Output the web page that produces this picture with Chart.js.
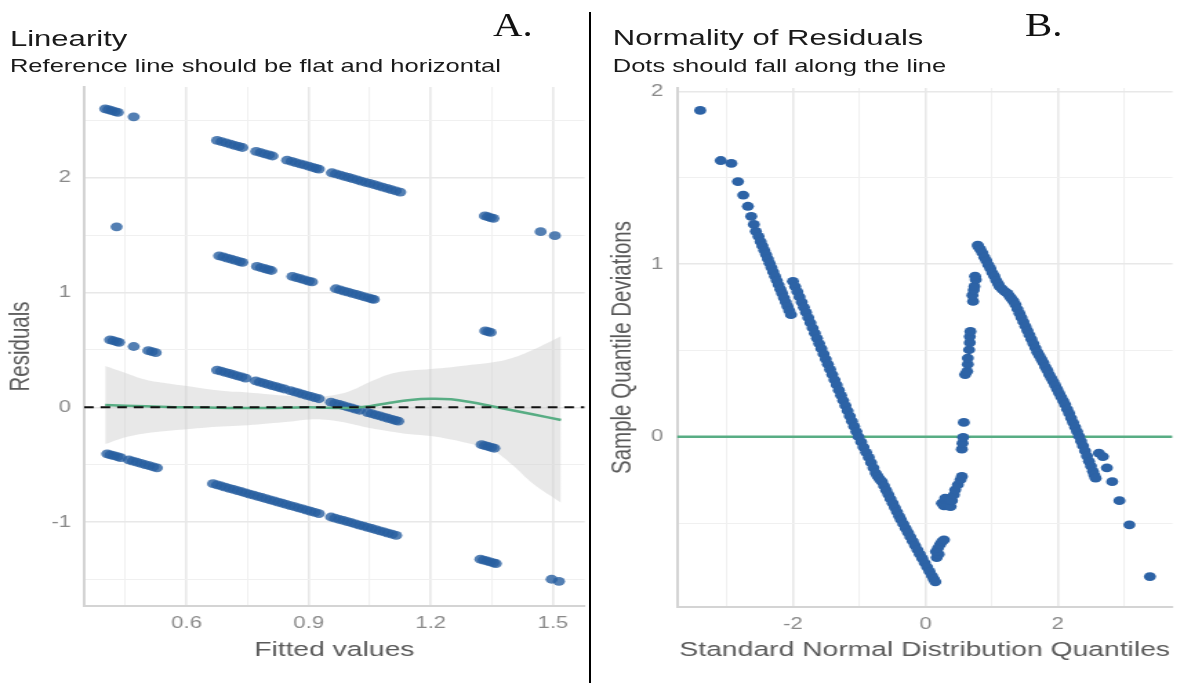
<!DOCTYPE html>
<html>
<head>
<meta charset="utf-8">
<script src="https://cdn.jsdelivr.net/npm/chart.js@4.4.1/dist/chart.umd.min.js"></script>
<style>
  html, body { margin: 0; padding: 0; background: #fff; }
  body { width: 1178px; height: 683px; position: relative; overflow: hidden; font-family: "Liberation Sans", Arial, sans-serif; }
  /* the source picture is stretched sideways, so the whole figure is drawn narrow and widened */
  #stretch { position: absolute; left: 0; top: 0; width: 853.6px; height: 683px; transform: scaleX(1.38); transform-origin: 0 0; }
  .title { position: absolute; font-size: 22.5px; line-height: 1; color: #1a1a1a; white-space: nowrap; }
  .subtitle { position: absolute; font-size: 18.5px; line-height: 1; color: #1a1a1a; white-space: nowrap; }
  .panel { position: absolute; top: 80px; height: 603px; }
  .tag { position: absolute; top: 8px; font-family: "Liberation Serif", "Times New Roman", serif; font-size: 34px; line-height: 1; color: #111; transform: scaleX(1.2); transform-origin: 0 0; }
  #divider { position: absolute; left: 589px; top: 12px; width: 2px; height: 671px; background: #000; }
</style>
</head>
<body>
<div id="stretch">
  <div class="title" style="left:7.2px; top:28px;">Linearity</div>
  <div class="subtitle" style="left:7.2px; top:57.3px;">Reference line should be flat and horizontal</div>
  <div class="title" style="left:444px; top:27px;">Normality of Residuals</div>
  <div class="subtitle" style="left:444px; top:57.3px;">Dots should fall along the line</div>
  <div class="panel" style="left:0; width:428px;"><canvas id="linearity"></canvas></div>
  <div class="panel" style="left:428px; width:426px;"><canvas id="normality"></canvas></div>
</div>
<div class="tag" style="left:493px;">A.</div>
<div class="tag" style="left:1025px;">B.</div>
<div id="divider"></div>

<script>
// ---- Linearity panel: [fitted, residual] grouped by observed outcome ----
const resid3 = [
  [0.400, 2.600], [0.408, 2.592], [0.416, 2.584], [0.424, 2.576], [0.431, 2.569], [0.470, 2.530],
  [0.675, 2.325], [0.686, 2.314], [0.697, 2.303], [0.708, 2.292], [0.718, 2.282], [0.728, 2.272], [0.737, 2.263],
  [0.771, 2.229], [0.782, 2.218], [0.792, 2.208], [0.802, 2.198], [0.811, 2.189],
  [0.847, 2.153], [0.858, 2.142], [0.868, 2.132], [0.879, 2.121], [0.889, 2.111], [0.900, 2.100], [0.910, 2.090], [0.918, 2.082], [0.925, 2.075],
  [0.957, 2.043], [0.967, 2.033], [0.978, 2.022], [0.988, 2.012], [0.998, 2.002], [1.008, 1.992], [1.019, 1.981], [1.029, 1.971],
  [1.040, 1.960], [1.050, 1.950], [1.061, 1.939], [1.071, 1.929], [1.082, 1.918], [1.093, 1.907], [1.103, 1.897], [1.114, 1.886], [1.125, 1.875],
  [1.333, 1.667], [1.340, 1.660], [1.347, 1.653], [1.354, 1.646], [1.470, 1.530], [1.505, 1.495]
];
const resid2 = [
  [0.428, 1.572],
  [0.680, 1.320], [0.690, 1.310], [0.700, 1.300], [0.710, 1.290], [0.720, 1.280], [0.730, 1.270], [0.737, 1.263],
  [0.773, 1.227], [0.783, 1.217], [0.793, 1.207], [0.801, 1.199], [0.808, 1.192],
  [0.860, 1.140], [0.870, 1.130], [0.880, 1.120], [0.890, 1.110], [0.900, 1.100], [0.908, 1.092],
  [0.967, 1.033], [0.977, 1.023], [0.987, 1.013], [0.997, 1.003], [1.007, 0.993], [1.017, 0.983], [1.027, 0.973],
  [1.037, 0.963], [1.047, 0.953], [1.055, 0.945], [1.060, 0.940],
  [1.334, 0.666], [1.341, 0.659], [1.347, 0.653]
];
const resid1 = [
  [0.412, 0.588], [0.420, 0.580], [0.428, 0.572], [0.434, 0.566], [0.470, 0.530], [0.506, 0.494], [0.515, 0.485], [0.524, 0.476],
  [0.675, 0.325], [0.685, 0.315], [0.695, 0.305], [0.705, 0.295], [0.715, 0.285], [0.725, 0.275], [0.735, 0.265], [0.745, 0.255],
  [0.770, 0.230], [0.780, 0.220], [0.790, 0.210], [0.800, 0.200], [0.810, 0.190], [0.820, 0.180], [0.830, 0.170], [0.840, 0.160],
  [0.855, 0.145], [0.865, 0.135], [0.875, 0.125], [0.885, 0.115], [0.895, 0.105], [0.905, 0.095], [0.915, 0.085], [0.925, 0.075],
  [0.955, 0.045], [0.965, 0.035], [0.975, 0.025], [0.985, 0.015], [0.995, 0.005], [1.005, -0.005], [1.015, -0.015], [1.025, -0.025],
  [1.045, -0.045], [1.055, -0.055], [1.065, -0.065], [1.075, -0.075], [1.085, -0.085], [1.095, -0.095], [1.105, -0.105], [1.113, -0.113], [1.120, -0.120],
  [1.325, -0.325], [1.333, -0.333], [1.341, -0.341], [1.349, -0.349], [1.356, -0.356]
];
const resid0 = [
  [0.405, -0.405], [0.413, -0.413], [0.421, -0.421], [0.430, -0.430], [0.438, -0.438], [0.458, -0.458], [0.468, -0.468],
  [0.478, -0.478], [0.488, -0.488], [0.498, -0.498], [0.508, -0.508], [0.518, -0.518], [0.527, -0.527],
  [0.665, -0.665], [0.675, -0.675], [0.685, -0.685], [0.695, -0.695], [0.705, -0.705], [0.715, -0.715], [0.725, -0.725],
  [0.735, -0.735], [0.745, -0.745], [0.755, -0.755], [0.765, -0.765], [0.775, -0.775], [0.785, -0.785], [0.795, -0.795],
  [0.805, -0.805], [0.815, -0.815], [0.825, -0.825], [0.835, -0.835], [0.845, -0.845], [0.855, -0.855], [0.865, -0.865],
  [0.875, -0.875], [0.885, -0.885], [0.895, -0.895], [0.905, -0.905], [0.915, -0.915], [0.925, -0.925],
  [0.955, -0.955], [0.965, -0.965], [0.975, -0.975], [0.985, -0.985], [0.995, -0.995], [1.005, -1.005], [1.015, -1.015],
  [1.025, -1.025], [1.035, -1.035], [1.045, -1.045], [1.055, -1.055], [1.065, -1.065], [1.075, -1.075], [1.085, -1.085],
  [1.095, -1.095], [1.105, -1.105], [1.115, -1.115],
  [1.322, -1.322], [1.330, -1.330], [1.338, -1.338], [1.346, -1.346], [1.354, -1.354], [1.360, -1.360], [1.497, -1.497], [1.515, -1.515]
];

// smoother and its confidence band
const smoothX = [0.40, 0.50, 0.60, 0.70, 0.80, 0.90, 1.00, 1.05, 1.10, 1.15, 1.20, 1.25, 1.30, 1.35, 1.40, 1.45, 1.52];
const smoothY = [0.02, 0.01, 0.0, -0.005, -0.005, 0.0, -0.005, 0.01, 0.04, 0.065, 0.075, 0.07, 0.045, 0.01, -0.025, -0.06, -0.11];
const bandX = [0.40, 0.45, 0.50, 0.55, 0.60, 0.65, 0.70, 0.75, 0.80, 0.85, 0.90, 0.95, 1.00, 1.05, 1.10, 1.15, 1.20, 1.25, 1.30, 1.35, 1.40, 1.45, 1.52];
const bandUpper = [0.36, 0.30, 0.24, 0.21, 0.185, 0.16, 0.14, 0.13, 0.115, 0.10, 0.09, 0.10, 0.14, 0.22, 0.29, 0.32, 0.335, 0.35, 0.37, 0.39, 0.43, 0.50, 0.62];
const bandLower = [-0.32, -0.26, -0.225, -0.205, -0.19, -0.175, -0.165, -0.155, -0.14, -0.125, -0.105, -0.11, -0.14, -0.18, -0.21, -0.235, -0.25, -0.28, -0.32, -0.37, -0.50, -0.66, -0.83];

const linXRange = [0.348, 1.578];
const linYRange = [-1.73, 2.79];
const linXMajor = [0.6, 0.9, 1.2, 1.5];
const linXLabels = ['0.6', '0.9', '1.2', '1.5'];
const linXMinor = [0.45, 0.75, 1.05, 1.35];
const linYMajor = [-1, 0, 1, 2];
const linYLabels = ['-1', '0', '1', '2'];
const linYMinor = [-1.5, -0.5, 0.5, 1.5, 2.5];

// ---- Normality panel: [theoretical quantile, sample deviation] ----
const qqUpperTail = [
  [-3.40, 1.89], [-3.09, 1.60], [-2.93, 1.583], [-2.83, 1.478], [-2.75, 1.40], [-2.68, 1.335], [-2.63, 1.277], [-2.59, 1.23], [-2.56, 1.19]
];
const qqBranchA = [
  [-2.52, 1.16], [-2.488, 1.13], [-2.461, 1.105], [-2.433, 1.08], [-2.406, 1.055], [-2.379, 1.03], [-2.352, 1.005], [-2.325, 0.98],
  [-2.298, 0.955], [-2.271, 0.93], [-2.244, 0.905], [-2.217, 0.88], [-2.19, 0.855], [-2.163, 0.83], [-2.136, 0.805], [-2.109, 0.78],
  [-2.082, 0.755], [-2.055, 0.73], [-2.03, 0.707]
];
const qqBranchB = [
  [-2.00, 0.90], [-1.967, 0.87], [-1.934, 0.84], [-1.901, 0.81], [-1.868, 0.78], [-1.835, 0.75], [-1.802, 0.72], [-1.769, 0.69],
  [-1.736, 0.66], [-1.703, 0.63], [-1.670, 0.60], [-1.637, 0.57], [-1.604, 0.54], [-1.571, 0.51], [-1.538, 0.48], [-1.505, 0.45],
  [-1.472, 0.42], [-1.439, 0.39], [-1.406, 0.36], [-1.373, 0.33], [-1.340, 0.30], [-1.307, 0.27], [-1.274, 0.24], [-1.241, 0.21],
  [-1.208, 0.18], [-1.175, 0.15], [-1.142, 0.12], [-1.109, 0.09], [-1.076, 0.06], [-1.043, 0.03], [-1.010, 0.00],
  [-0.970, -0.03], [-0.935, -0.06], [-0.895, -0.09], [-0.855, -0.12], [-0.820, -0.15], [-0.785, -0.18], [-0.750, -0.21],
  [-0.720, -0.23], [-0.690, -0.245], [-0.657, -0.26], [-0.624, -0.285], [-0.592, -0.31], [-0.559, -0.335], [-0.527, -0.36],
  [-0.494, -0.385], [-0.461, -0.41], [-0.429, -0.435], [-0.396, -0.46], [-0.370, -0.48],
  [-0.334, -0.505], [-0.299, -0.53], [-0.263, -0.555], [-0.227, -0.58], [-0.191, -0.605], [-0.156, -0.63], [-0.120, -0.655],
  [-0.084, -0.68], [-0.047, -0.705], [-0.011, -0.73], [0.026, -0.755], [0.062, -0.78], [0.099, -0.805], [0.128, -0.825], [0.150, -0.84]
];
const qqRise = [
  [0.17, -0.70], [0.20, -0.68], [0.16, -0.665], [0.19, -0.645], [0.22, -0.625], [0.25, -0.607], [0.28, -0.597],
  [0.25, -0.385], [0.28, -0.40], [0.33, -0.40], [0.38, -0.404], [0.30, -0.355], [0.36, -0.365], [0.40, -0.37],
  [0.43, -0.336], [0.45, -0.307], [0.49, -0.278], [0.53, -0.249], [0.55, -0.23],
  [0.55, -0.072], [0.56, -0.037], [0.57, -0.003], [0.58, 0.083],
  [0.60, 0.36], [0.63, 0.379], [0.64, 0.42], [0.64, 0.456], [0.66, 0.504], [0.67, 0.545], [0.67, 0.58], [0.68, 0.61],
  [0.72, 0.784], [0.71, 0.82], [0.73, 0.85], [0.74, 0.871], [0.76, 0.91], [0.75, 0.93]
];
const qqBranchC = [
  [0.79, 1.11], [0.80, 1.10], [0.83, 1.085], [0.86, 1.065], [0.89, 1.04], [0.92, 1.02], [0.95, 0.995], [0.98, 0.975],
  [1.01, 0.95], [1.04, 0.93], [1.07, 0.905], [1.10, 0.885], [1.12, 0.87], [1.16, 0.855], [1.20, 0.84], [1.24, 0.83],
  [1.27, 0.815], [1.30, 0.80], [1.33, 0.785], [1.36, 0.765], [1.39, 0.74], [1.42, 0.715], [1.45, 0.69], [1.48, 0.665],
  [1.51, 0.64], [1.54, 0.615], [1.57, 0.59], [1.60, 0.565], [1.63, 0.54], [1.66, 0.515], [1.69, 0.49], [1.72, 0.47],
  [1.75, 0.45], [1.78, 0.43], [1.81, 0.405], [1.84, 0.385], [1.87, 0.36], [1.90, 0.34], [1.93, 0.32], [1.96, 0.297],
  [1.99, 0.275], [2.02, 0.252], [2.05, 0.23], [2.08, 0.208], [2.11, 0.186], [2.14, 0.16], [2.17, 0.135], [2.20, 0.108],
  [2.23, 0.082], [2.26, 0.056], [2.29, 0.03], [2.32, 0.003], [2.35, -0.025], [2.38, -0.053], [2.41, -0.082], [2.44, -0.112],
  [2.47, -0.142], [2.50, -0.17], [2.53, -0.2], [2.55, -0.222], [2.57, -0.24]
];
const qqLowerTail = [[2.62, -0.095], [2.68, -0.115], [2.74, -0.18], [2.82, -0.26], [2.93, -0.37], [3.08, -0.51], [3.39, -0.81]];

const qqXRange = [-3.75, 3.73];
const qqYRange = [-0.986, 2.02];
const qqXMajor = [-2, 0, 2];
const qqXLabels = ['-2', '0', '2'];
const qqXMinor = [-3, -1, 1, 3];
const qqYMajor = [0, 1, 2];
const qqYLabels = ['0', '1', '2'];
const qqYMinor = [-0.5, 0.5, 1.5];

const GREEN = '#58ad84';
Chart.defaults.font.family = '"Liberation Sans", Arial, sans-serif';

function axis(range, major, labels, minor, title, opt) {
    return {
        type: 'linear',
        min: range[0],
        max: range[1],
        afterBuildTicks: (s) => {
            s.ticks = major.concat(minor).sort((a, b) => a - b).map(v => ({ value: v }));
        },
        afterFit: (s) => {
            // pin the plot area: fixed axis size, no extra room for edge labels
            if (opt.horizontal) {
                s.height = opt.size;
                s.paddingLeft = 0;
                s.paddingRight = 0;
            } else {
                s.width = opt.size;
                s.paddingTop = 0;
                s.paddingBottom = 0;
            }
        },
        ticks: {
            autoSkip: false,
            maxRotation: 0,
            padding: opt.tickPad,
            color: '#8a8a8a',
            font: { size: 16 },
            callback: (v) => {
                const i = major.indexOf(v);
                return i >= 0 ? labels[i] : '';
            }
        },
        grid: {
            drawTicks: false,
            color: (c) => major.includes(c.tick.value) ? '#e8e8e8' : '#f0f0f0',
            lineWidth: (c) => major.includes(c.tick.value) ? 1.6 : 1.1
        },
        border: { display: true, color: '#d4d4d4', width: 2 },
        title: { display: true, text: title, color: '#5a5a5a', font: { size: 20.5 }, padding: opt.titlePad }
    };
}

function baseOptions(padding, x, y) {
    return {
        responsive: true,
        maintainAspectRatio: false,
        animation: false,
        layout: { padding },
        plugins: { legend: { display: false }, tooltip: { enabled: false } },
        scales: { x, y }
    };
}

const pair = (xs, ys) => xs.map((x, i) => [x, ys[i]]);

new Chart(document.getElementById('linearity'), {
    type: 'scatter',
    data: {
        datasets: [
            {
                type: 'line', data: [[linXRange[0], 0], [linXRange[1], 0]],
                borderColor: '#111', borderWidth: 2, borderDash: [7, 5], pointRadius: 0, fill: false
            },
            {
                type: 'line', data: pair(smoothX, smoothY),
                borderColor: GREEN, borderWidth: 2.5, pointRadius: 0, tension: 0.4, fill: false
            },
            {
                data: [...resid3, ...resid2, ...resid1, ...resid0],
                pointRadius: 4.4, pointBorderWidth: 0, pointBackgroundColor: 'rgba(40,95,160,0.8)'
            },
            {
                type: 'line', data: pair(bandX, bandUpper),
                borderColor: 'transparent', borderWidth: 0, pointRadius: 0, tension: 0.4,
                fill: '+1', backgroundColor: 'rgba(205,205,205,0.45)'
            },
            {
                type: 'line', data: pair(bandX, bandLower),
                borderColor: 'transparent', borderWidth: 0, pointRadius: 0, tension: 0.4, fill: false
            }
        ]
    },
    options: baseOptions(
        { left: 0, top: 7, right: 2.6, bottom: 0 },
        axis(linXRange, linXMajor, linXLabels, linXMinor, 'Fitted values',
            { horizontal: true, size: 77, tickPad: 8, titlePad: { top: 0, bottom: 20 } }),
        axis(linYRange, linYMajor, linYLabels, linYMinor, 'Residuals',
            { horizontal: false, size: 60.9, tickPad: 9.5, titlePad: { top: 3, bottom: 0 } })
    )
});

new Chart(document.getElementById('normality'), {
    type: 'scatter',
    data: {
        datasets: [
            {
                data: [...qqUpperTail, ...qqBranchA, ...qqBranchB, ...qqRise, ...qqBranchC, ...qqLowerTail],
                pointRadius: 4.4, pointBorderWidth: 0, pointBackgroundColor: '#2d63a6'
            },
            {
                type: 'line', data: [[qqXRange[0], 0], [qqXRange[1], 0]],
                borderColor: GREEN, borderWidth: 2.5, pointRadius: 0, fill: false
            }
        ]
    },
    options: baseOptions(
        { left: 0, top: 8, right: 1.1, bottom: 0 },
        axis(qqXRange, qqXMajor, qqXLabels, qqXMinor, 'Standard Normal Distribution Quantiles',
            { horizontal: true, size: 76, tickPad: 7.5, titlePad: { top: 0, bottom: 20 } }),
        axis(qqYRange, qqYMajor, qqYLabels, qqYMinor, 'Sample Quantile Deviations',
            { horizontal: false, size: 62.6, tickPad: 10, titlePad: { top: 10.8, bottom: 0 } })
    )
});
</script>
</body>
</html>
